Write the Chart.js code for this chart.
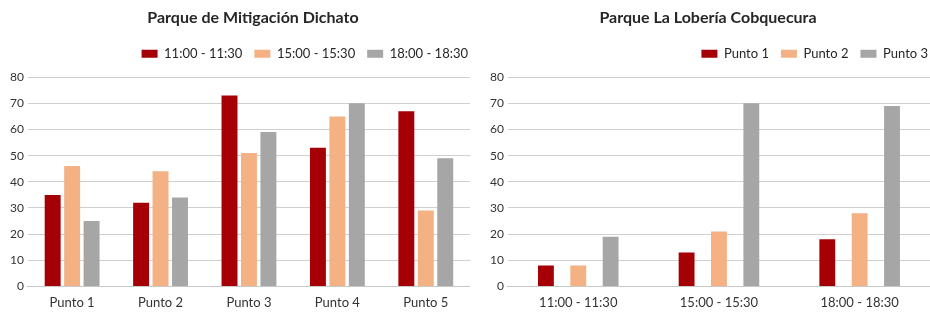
<!DOCTYPE html>
<html>
<head>
<meta charset="utf-8">
<script src="https://cdn.jsdelivr.net/npm/chart.js@4.4.0/dist/chart.umd.min.js"></script>
<style>
  body { margin: 0; background: #fff; }
  #wrap { position: relative; width: 930px; height: 312px; overflow: hidden; }
  canvas { position: absolute; top: 0; }
  #chartDichato { left: 0; }
  #chartLoberia { left: 470px; }
</style>
</head>
<body>
<div id="wrap">
  <canvas id="chartDichato" width="470" height="320"></canvas>
  <canvas id="chartLoberia" width="460" height="320"></canvas>
</div>
<script>
// datos
const puntos = ['Punto 1', 'Punto 2', 'Punto 3', 'Punto 4', 'Punto 5'];
const horarios = ['11:00 - 11:30', '15:00 - 15:30', '18:00 - 18:30'];

// Parque de Mitigación Dichato (una serie por horario)
const dichato1100 = [35, 32, 73, 53, 67];
const dichato1500 = [46, 44, 51, 65, 29];
const dichato1800 = [25, 34, 59, 70, 49];

// Parque La Lobería Cobquecura (una serie por punto)
const loberiaP1 = [8, 13, 18];
const loberiaP2 = [8, 21, 28];
const loberiaP3 = [19, 70, 69];
const loberiaPuntos = ['Punto 1', 'Punto 2', 'Punto 3'];

const yTicks = [0, 10, 20, 30, 40, 50, 60, 70, 80];

const colores = ['#a50005', '#f4b183', '#a6a6a6'];
const FONT = 'Lato, "Open Sans", sans-serif';

// margen bajo la leyenda, y leyenda pegada al borde derecho
const legendMargin = {
    id: 'legendMargin',
    beforeInit(chart) {
        const fit = chart.legend.fit;
        chart.legend.fit = function () { fit.bind(chart.legend)(); this.height += 7; };
    },
    afterLayout(chart) {
        chart.legend.right += chart.legend.options.labels.padding - 2;
    }
};

// corre el título hacia la derecha (px)
const titleShift = shift => ({
    id: 'titleShift',
    afterLayout(chart) { chart.titleBlock.left += shift * 2; }
});

function baseOptions(titulo, padLeft, padRight, cp, bp) {
    return {
        responsive: false,
        animation: false,
        datasets: { bar: { categoryPercentage: cp, barPercentage: bp } },
        layout: { padding: { left: padLeft, right: padRight, top: 0, bottom: 0 } },
        plugins: {
            title: {
                display: true, text: titulo, color: '#262626',
                font: { family: FONT, size: 16, weight: 'bold' },
                padding: { top: 8, bottom: 8 }
            },
            legend: {
                position: 'top', align: 'end',
                labels: {
                    boxWidth: 16, boxHeight: 8, padding: 12, color: '#262626',
                    font: { family: FONT, size: 13 }
                }
            },
            tooltip: { enabled: false }
        },
        scales: {
            x: {
                grid: { display: false, drawTicks: false },
                border: { display: true, color: '#c8c8c8' },
                ticks: { color: '#333', font: { family: FONT, size: 13 }, padding: 9 }
            },
            y: {
                min: 0, max: yTicks[yTicks.length - 1],
                afterBuildTicks: axis => { axis.ticks = yTicks.map(v => ({ value: v })); },
                grid: { color: '#d0d0d0', drawTicks: false },
                border: { display: false },
                ticks: { color: '#333', font: { family: FONT, size: 12 }, padding: 4 }
            }
        }
    };
}

function sets(labels, series) {
    return series.map((d, i) => ({ label: labels[i], data: d, backgroundColor: colores[i] }));
}

new Chart(document.getElementById('chartDichato'), {
    type: 'bar',
    data: { labels: puntos, datasets: sets(horarios, [dichato1100, dichato1500, dichato1800]) },
    options: baseOptions('Parque de Mitigación Dichato', 6, 0, 0.66, 0.82),
    plugins: [legendMargin, titleShift(15)]
});

new Chart(document.getElementById('chartLoberia'), {
    type: 'bar',
    data: { labels: horarios, datasets: sets(loberiaPuntos, [loberiaP1, loberiaP2, loberiaP3]) },
    options: baseOptions('Parque La Lobería Cobquecura', 16, 0, 0.69, 0.49),
    plugins: [legendMargin]
});
</script>
</body>
</html>
